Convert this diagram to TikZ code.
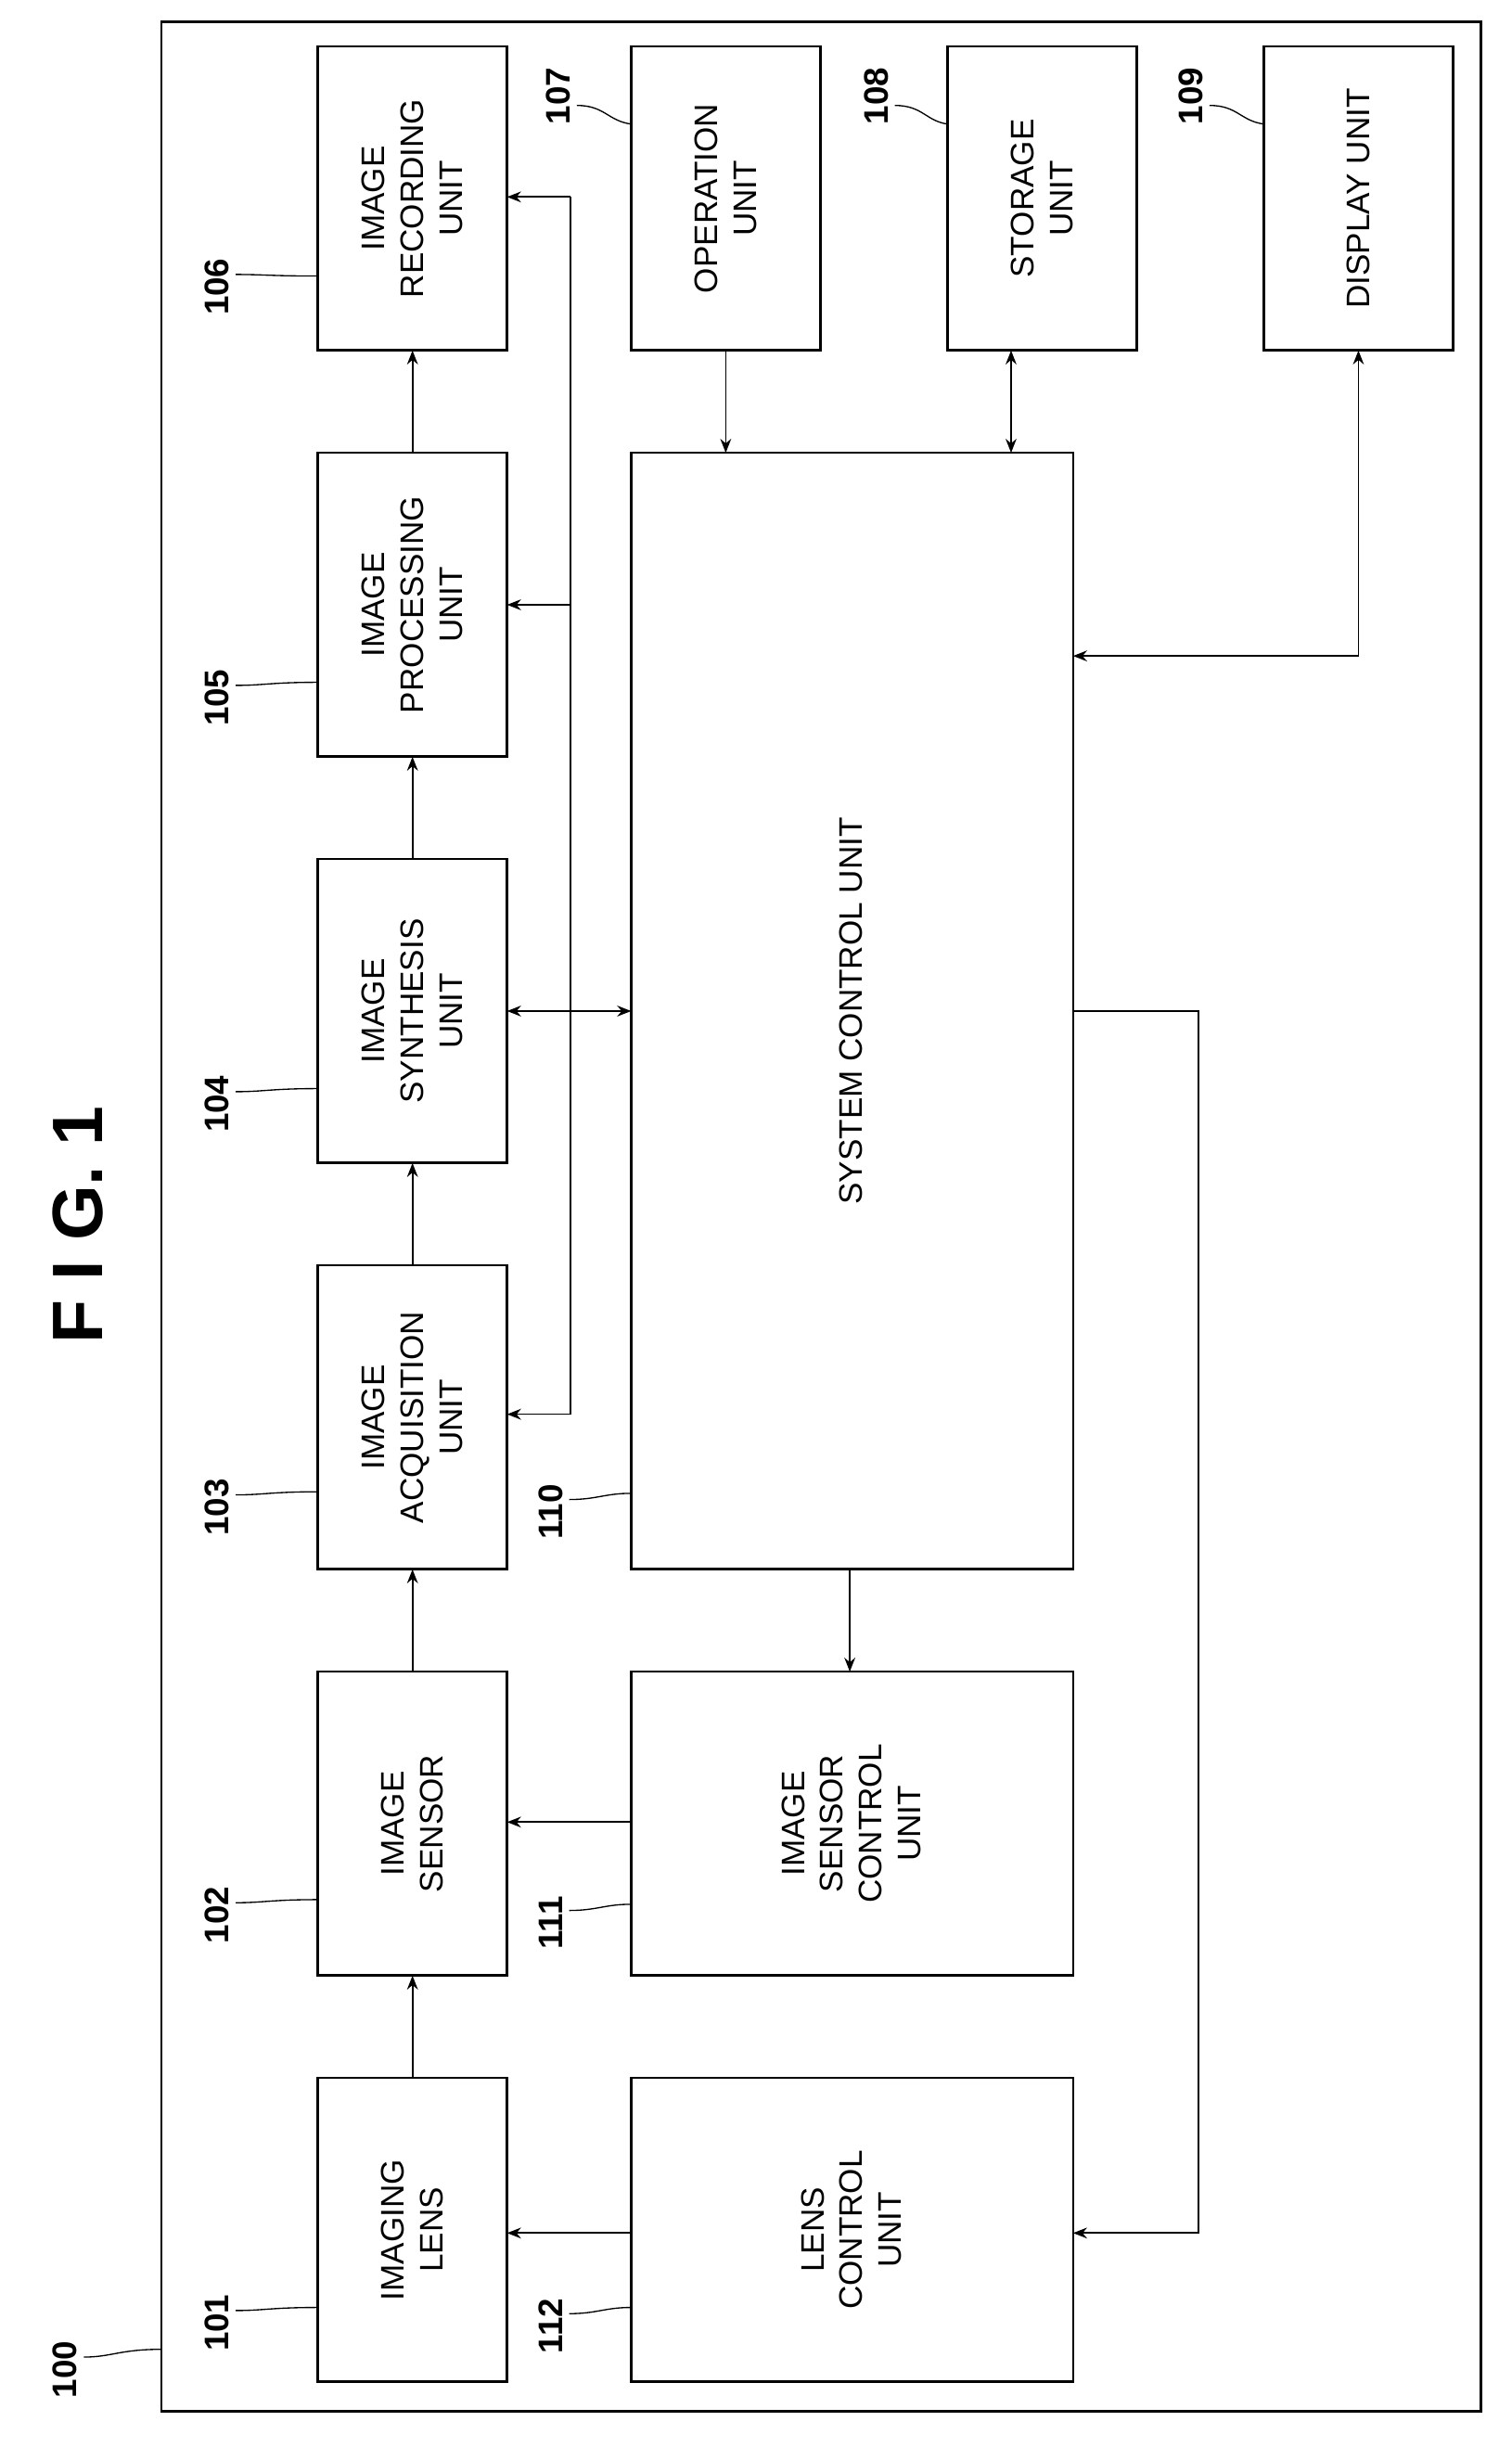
\documentclass[tikz,border=0pt]{standalone}
\usepackage{fontspec}
\setmainfont{Liberation Sans}
\usetikzlibrary{arrows.meta}
\begin{document}
\begin{tikzpicture}[x=1pt,y=-1pt,
  box/.style={draw,line width=1.6pt},
  lab/.style={rotate=90,align=center,font=\fontsize{21}{25}\selectfont},
  num/.style={rotate=90,font=\bfseries\fontsize{22}{24}\selectfont},
  ar/.style={line width=1pt,-{Stealth[length=9pt,width=7pt]}},
  dar/.style={line width=1pt,{Stealth[length=9pt,width=7pt]}-{Stealth[length=9pt,width=7pt]}},
  ld/.style={line width=0.8pt}]
\useasboundingbox (0,0) rectangle (975,1578);
\draw[box] (104,14) rectangle (955,1555);
\node[rotate=90,font=\bfseries\fontsize{46}{50}\selectfont] (fig) at (50,790) {F I G. 1};
% boxes
\foreach \n/\y/\t in {106/30/{IMAGE\\RECORDING\\UNIT},105/292/{IMAGE\\PROCESSING\\UNIT},104/554/{IMAGE\\SYNTHESIS\\UNIT},103/816/{IMAGE\\ACQUISITION\\UNIT},102/1078/{IMAGE\\SENSOR},101/1340/{IMAGING\\LENS}}{
  \draw[box] (205,\y) rectangle (327,\y+196);
  \node[lab] (b\n) at (266,\y+98) {\t};
  \coordinate (t\n) at (266,\y);
  \coordinate (d\n) at (266,\y+196);
}
\draw[box] (407,30) rectangle (529,226); \node[lab] (b107) at (468,128) {OPERATION\\UNIT};
\draw[box] (611,30) rectangle (733,226); \node[lab] (b108) at (672,128) {STORAGE\\UNIT};
\draw[box] (815,30) rectangle (937,226); \node[lab] (b109) at (876,128) {DISPLAY UNIT};
\draw[box] (407,292) rectangle (692,1012); \node[lab] (b110) at (549,652) {SYSTEM CONTROL UNIT};
\draw[box] (407,1078) rectangle (692,1274); \node[lab] (b111) at (549,1176) {IMAGE\\SENSOR\\CONTROL\\UNIT};
\draw[box] (407,1340) rectangle (692,1536); \node[lab] (b112) at (549,1438) {LENS\\CONTROL\\UNIT};
% chain
\draw[ar] (t101) -- (d102);
\draw[ar] (t102) -- (d103);
\draw[ar] (t103) -- (d104);
\draw[ar] (t104) -- (d105);
\draw[ar] (t105) -- (d106);
% bus
\coordinate (bt) at (368,127); \coordinate (bb) at (368,912);
\draw[line width=1pt] (bt) -- (bb);
\draw[ar] (bt) -- (327,127);
\draw[ar] (368,390) -- (327,390);
\draw[ar] (bb) -- (327,912);
\draw[dar] (327,652) -- (407,652);
\draw[ar] (407,1440) -- (327,1440);
\draw[ar] (407,1175) -- (327,1175);
\draw[ar] (548,1012) -- (548,1078);
\draw[ar] (468,226) -- (468,292);
\draw[dar] (652,226) -- (652,292);
\draw[dar] (876,226) -- (876,423) -- (692,423);
\draw[ar] (692,652) -- (773,652) -- (773,1440) -- (692,1440);
% numbers
\foreach \n/\x/\y/\bx/\by in {106/140/185/205/178,105/140/450/205/440,104/140/712/205/702,103/140/972/205/962,102/140/1235/205/1225,101/140/1498/205/1488,110/355/975/407/963,111/355/1240/407/1228,112/355/1500/407/1488,100/42/1528/104/1515}{
  \node[num] (n\n) at (\x,\y) {\n};
  \draw[ld] (\x+12,\y-8) .. controls (\x+30,\y-8) and (\x+35,\by) .. (\bx,\by);
}
\foreach \n/\x/\bx in {107/360/407,108/565/611,109/768/815}{
  \node[num] (n\n) at (\x,62) {\n};
  \draw[ld] (\x+12,68) .. controls (\x+30,68) and (\x+32,78) .. (\bx,80);
}
\end{tikzpicture}
\end{document}
